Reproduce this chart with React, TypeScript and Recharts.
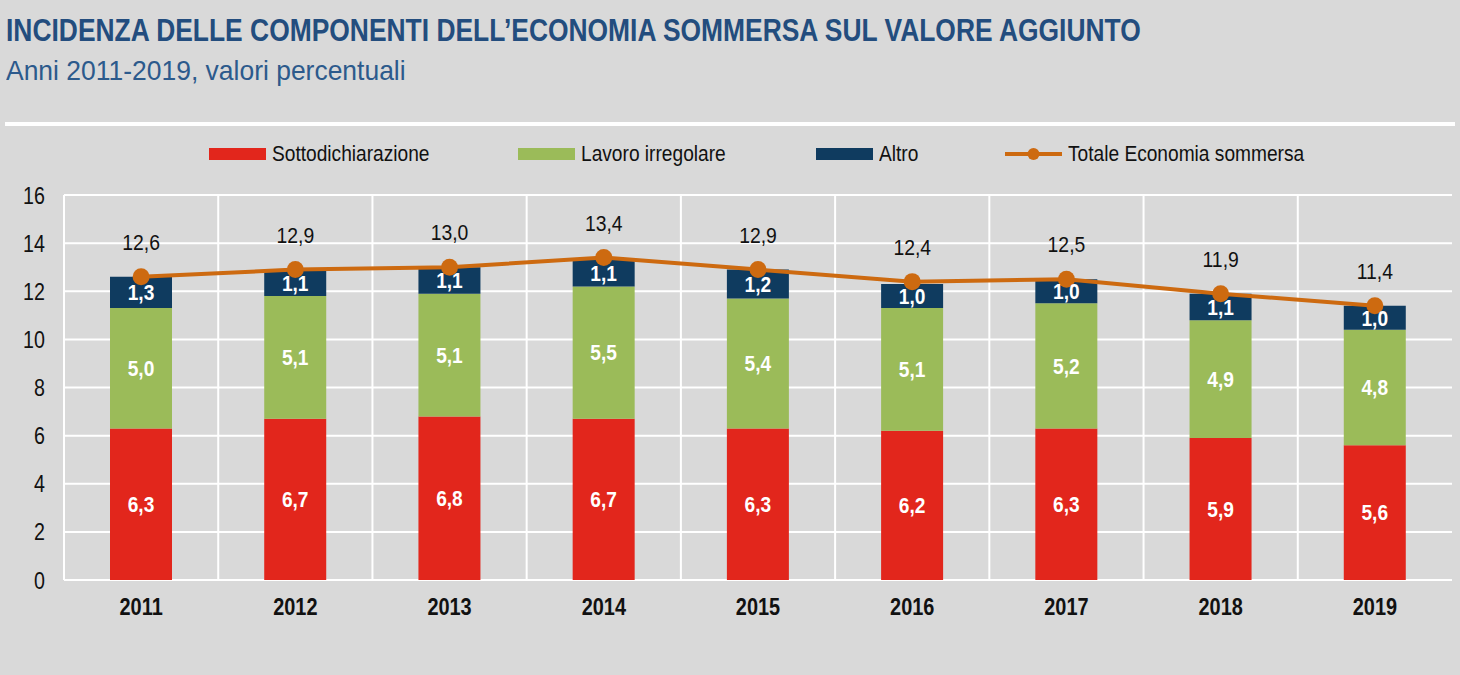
import { Bar, CartesianGrid, ComposedChart, LabelList, Line, XAxis, YAxis } from "recharts";

const years = ["2011", "2012", "2013", "2014", "2015", "2016", "2017", "2018", "2019"];
const sottodichiarazione = [6.3, 6.7, 6.8, 6.7, 6.3, 6.2, 6.3, 5.9, 5.6];
const lavoroIrregolare = [5.0, 5.1, 5.1, 5.5, 5.4, 5.1, 5.2, 4.9, 4.8];
const altro = [1.3, 1.1, 1.1, 1.1, 1.2, 1.0, 1.0, 1.1, 1.0];
const totale = [12.6, 12.9, 13.0, 13.4, 12.9, 12.4, 12.5, 11.9, 11.4];
const yTicks = [0, 2, 4, 6, 8, 10, 12, 14, 16];

const RED = "#e2261c";
const GREEN = "#9bbb59";
const NAVY = "#0f3b5f";
const ORANGE = "#cd6a10";
const BG = "#d9d9d9";
const FONT = "'Liberation Sans', Arial, sans-serif";

const data = years.map((year, i) => ({
  year,
  sotto: sottodichiarazione[i],
  lavoro: lavoroIrregolare[i],
  altro: altro[i],
  totale: totale[i],
}));

const comma = (v: unknown) => Number(v).toFixed(1).replace(".", ",");

// no narrow font installed, so squeeze the text horizontally
const narrow = (s: number, origin = "center") => ({
  transformBox: "fill-box" as const,
  transformOrigin: origin,
  transform: `scaleX(${s})`,
});

const legendItems = [
  { label: "Sottodichiarazione", color: RED, kind: "rect", left: 209 },
  { label: "Lavoro irregolare", color: GREEN, kind: "rect", left: 518 },
  { label: "Altro", color: NAVY, kind: "rect", left: 816 },
  { label: "Totale Economia sommersa", color: ORANGE, kind: "line", left: 1005 },
];

function ChartLegend() {
  return (
    <>
      {legendItems.map((it) => (
        <div
          key={it.label}
          style={{ position: "absolute", top: 141, left: it.left, display: "flex", alignItems: "center", gap: 6, fontSize: 22, color: "#111", whiteSpace: "nowrap" }}
        >
          {it.kind === "rect" ? (
            <span style={{ width: 57, height: 12, background: it.color, display: "inline-block" }} />
          ) : (
            <svg width={57} height={18}>
              <line x1={0} y1={9} x2={57} y2={9} stroke={it.color} strokeWidth={4} />
              <circle cx={28.5} cy={9} r={6} fill={it.color} />
            </svg>
          )}
          <span style={{ display: "inline-block", transform: "scaleX(0.87)", transformOrigin: "left center" }}>{it.label}</span>
        </div>
      ))}
    </>
  );
}

export default function App() {
  return (
    <div
      style={{
        position: "absolute",
        left: 0,
        top: 0,
        width: 1460,
        height: 675,
        background: BG,
        fontFamily: FONT,
        overflow: "hidden",
      }}
    >
      <div
        style={{
          position: "absolute",
          left: 6,
          top: 13,
          fontSize: 31,
          fontWeight: "bold",
          color: "#234d7e",
          whiteSpace: "nowrap",
          transform: "scaleX(0.852)",
          transformOrigin: "left center",
        }}
      >
        INCIDENZA DELLE COMPONENTI DELL’ECONOMIA SOMMERSA SUL VALORE AGGIUNTO
      </div>
      <div
        style={{
          position: "absolute",
          left: 6,
          top: 55,
          fontSize: 28,
          color: "#2c5a8c",
          whiteSpace: "nowrap",
          transform: "scaleX(0.945)",
          transformOrigin: "left center",
        }}
      >
        Anni 2011-2019, valori percentuali
      </div>
      <div style={{ position: "absolute", left: 5, top: 122, width: 1450, height: 4, background: "#fff" }} />

      <ComposedChart
        width={1460}
        height={675}
        data={data}
        margin={{ top: 195, right: 8, left: 0, bottom: 55 }}
        barCategoryGap={0}
      >
        <CartesianGrid
          stroke="#fff"
          strokeWidth={2}
          verticalCoordinatesGenerator={({ offset }: any) =>
            years.map((_, i) => offset.left + (i * offset.width) / years.length)
          }
        />
        <XAxis
          dataKey="year"
          axisLine={false}
          tickLine={false}
          height={40}
          tickMargin={12}
          tick={{ fill: "#111", fontSize: 24, fontWeight: "bold", style: narrow(0.83) }}
        />
        <YAxis
          width={64}
          domain={[0, 16]}
          ticks={yTicks}
          axisLine={false}
          tickLine={false}
          tickMargin={13}
          tick={{ fill: "#111", fontSize: 24, style: narrow(0.82, "right center") }}
        />
        <Bar dataKey="sotto" stackId="a" fill={RED} barSize={62} isAnimationActive={false}>
          <LabelList dataKey="sotto" position="center" formatter={comma} fill="#fff" fontSize={22} fontWeight="bold" style={narrow(0.87)} />
        </Bar>
        <Bar dataKey="lavoro" stackId="a" fill={GREEN} barSize={62} isAnimationActive={false}>
          <LabelList dataKey="lavoro" position="center" formatter={comma} fill="#fff" fontSize={22} fontWeight="bold" style={narrow(0.87)} />
        </Bar>
        <Bar dataKey="altro" stackId="a" fill={NAVY} barSize={62} isAnimationActive={false}>
          <LabelList dataKey="altro" position="center" formatter={comma} fill="#fff" fontSize={22} fontWeight="bold" style={narrow(0.87)} />
        </Bar>
        <Line
          dataKey="totale"
          type="linear"
          stroke={ORANGE}
          strokeWidth={4}
          dot={{ r: 8.5, fill: ORANGE, stroke: ORANGE, strokeWidth: 0 }}
          isAnimationActive={false}
        >
          <LabelList dataKey="totale" position="top" offset={27} formatter={comma} fill="#111" fontSize={22} style={narrow(0.88)} />
        </Line>
      </ComposedChart>
      <ChartLegend />
    </div>
  );
}
